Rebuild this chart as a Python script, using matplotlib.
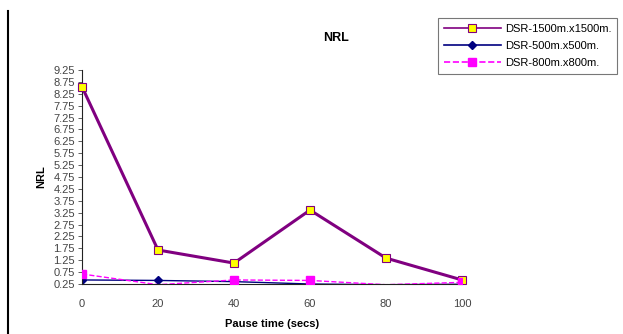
import numpy as np
import matplotlib.pyplot as plt
from matplotlib.lines import Line2D

pause_time = [0, 20, 40, 60, 80, 100]
nrl_1500 = [8.55, 1.68, 1.13, 3.36, 1.34, 0.42]
nrl_500 = [0.42, 0.40, 0.35, 0.25, 0.22, 0.24]
nrl_800 = [0.67, 0.22, 0.42, 0.40, 0.22, 0.32]
y_ticks = np.arange(0.25, 9.26, 0.5)

plt.rcParams['font.family'] = ['Liberation Sans', 'DejaVu Sans']

fig = plt.figure(figsize=(6.23, 3.34), dpi=100)
ax = fig.add_axes([0.1316, 0.1497, 0.61, 0.6405])

ax.plot(pause_time, nrl_1500, '-', color='#800080', lw=2.2, marker='s', ms=6,
        mfc='#FFFF00', mec='#800080', mew=0.8, label='DSR-1500m.x1500m.', zorder=3)
# points sitting under the axis floor get no marker
ax.plot(pause_time, nrl_500, '-', color='#000080', lw=1.0, marker='D', ms=4,
        mfc='#000080', mec='#000080', markevery=[0, 1, 2, 3],
        label='DSR-500m.x500m.', zorder=2)
ax.plot(pause_time, nrl_800, '--', color='#FF00FF', lw=1.0, marker='s', ms=6,
        mfc='#FF00FF', mec='#FF00FF', markevery=[0, 2, 3, 5],
        label='DSR-800m.x800m.', zorder=4)

ax.set_xlim(0, 100)
ax.set_ylim(0.25, 9.25)
ax.set_xticks(pause_time)
ax.set_yticks(y_ticks)
ax.set_yticklabels(['{:.2f}'.format(v) for v in y_ticks])
ax.tick_params(axis='both', labelsize=8, colors='#444444', length=3, width=0.6)
ax.tick_params(axis='x', length=0, pad=11)
ax.tick_params(axis='y', pad=2)
for side in ['top', 'right']:
    ax.spines[side].set_visible(False)
for side in ['left', 'bottom']:
    ax.spines[side].set_linewidth(0.8)
    ax.spines[side].set_color('#222222')
# let the top marker at x=0 show over the spine
ax.lines[0].set_clip_on(False)

ax.set_xlabel('Pause time (secs)', fontsize=8, fontweight='bold', labelpad=7)
ax.set_ylabel('NRL', fontsize=8, fontweight='bold', labelpad=5)
fig.text(0.539, 0.886, 'NRL', fontsize=9, fontweight='bold', ha='center', va='center')

# vertical rule at the left edge of the figure
fig.add_artist(Line2D([0.0135, 0.0135], [0.0, 0.967], color='black', lw=1.5))

leg = fig.legend(loc='upper left', bbox_to_anchor=(0.703, 0.946), fontsize=8,
                 frameon=True, fancybox=False, edgecolor='#555555', handlelength=5.2,
                 borderpad=0.5, labelspacing=0.65, handletextpad=0.3,
                 borderaxespad=0)
leg.get_frame().set_linewidth(0.8)
for ln in leg.get_lines():
    ln.set_linewidth(1.2)

fig.savefig('out.png', dpi=100)
